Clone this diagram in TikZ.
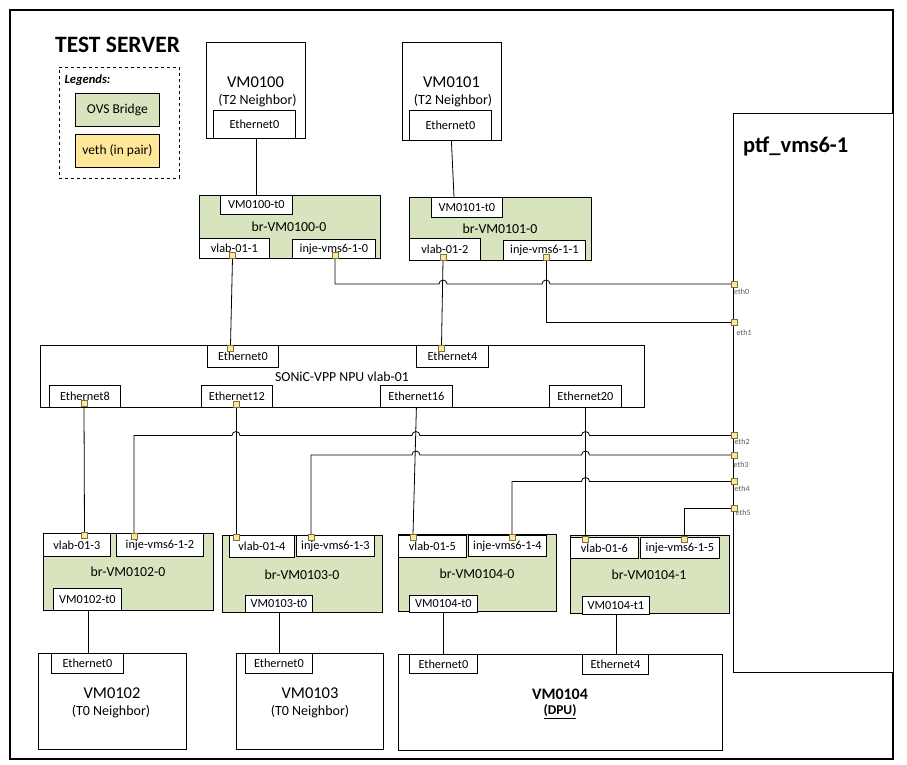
\documentclass[tikz,border=0pt]{standalone}
\usepackage{fontspec}
\setmainfont{Carlito}
\usetikzlibrary{calc}

\definecolor{brgreen}{HTML}{D7E4BD}
\definecolor{vethyellow}{HTML}{FFE699}
\definecolor{portedge}{HTML}{7F6F45}
\definecolor{ethgray}{HTML}{595959}

% font size given in pixels of the drawing (1px = 1pt)
\newcommand{\pxfont}[1]{\fontsize{#1}{#1}\selectfont}
% rectangular box: style, name, top-left corner, width, height, text
\newcommand{\pxbox}[6]{\node[#1,minimum width=#4pt,minimum height=#5pt] (#2) at (#3) {#6};}

\tikzset{
  box/.style={draw, fill=white, line width=0.8pt, inner sep=0pt, anchor=north west, font=\pxfont{12.3}},
  bridge/.style={box, fill=brgreen},
  txt/.style={inner sep=0pt},
  brlabel/.style={txt, font=\pxfont{13.8}},
  vmname/.style={txt, font=\pxfont{16.5}},
  vmrole/.style={txt, font=\pxfont{14}},
  port/.style={draw=portedge, fill=vethyellow, line width=0.6pt, minimum size=5.5pt, inner sep=0pt},
  wire/.style={draw, line width=0.8pt},
  ethlabel/.style={anchor=west, inner sep=0pt, font=\pxfont{8}, text=ethgray},
}

\begin{document}
\begin{tikzpicture}[x=1pt,y=-1pt]
\useasboundingbox (0,0) rectangle (907,765);

% server frame
\draw[line width=2.2pt] (10,10) rectangle (893,759);
\node[anchor=base west, txt, font=\pxfont{23.5}\bfseries] (title) at (55,53) {TEST SERVER};

% legend
\node[draw, dashed, line width=0.8pt, anchor=north west, minimum width=120pt, minimum height=111pt] (legend) at (59,67) {};
\node[anchor=west, txt, font=\pxfont{12.5}\bfseries\itshape] (legtitle) at (64.5,80) {Legends:};
\pxbox{box, fill=brgreen, font=\pxfont{13.5}}{legovs}{75,93}{84}{33}{OVS Bridge}
\pxbox{box, fill=vethyellow, font=\pxfont{13.5}}{legveth}{75,134}{84}{33}{veth (in pair)}

% T2 neighbours
\pxbox{box}{vm0100}{206,42}{99}{96}{}
\node[vmname] (vm0100name) at (255.5,82.5) {VM0100};
\node[vmrole] (vm0100role) at (257.5,100.5) {(T2 Neighbor)};
\pxbox{box}{vm0100eth}{213,110}{82}{28}{Ethernet0}

\pxbox{box}{vm0101}{402,42}{99}{98}{}
\node[vmname] (vm0101name) at (451.5,82.5) {VM0101};
\node[vmrole] (vm0101role) at (453,100.5) {(T2 Neighbor)};
\pxbox{box}{vm0101eth}{409,110}{82}{30}{Ethernet0}

% upper bridges
\pxbox{bridge}{br0100}{199,195}{181}{63}{}
\pxbox{box}{t0100}{220,195}{72}{19}{VM0100-t0}
\node[brlabel] (br0100name) at (289,226.5) {br-VM0100-0};
\pxbox{box}{v011}{199,238}{70}{20}{vlab-01-1}
\pxbox{box}{i0}{292,239}{83}{19}{inje-vms6-1-0}

\pxbox{bridge}{br0101}{409,197}{182}{63}{}
\pxbox{box}{t0101}{431,197}{71}{20}{VM0101-t0}
\node[brlabel] (br0101name) at (500,228.5) {br-VM0101-0};
\pxbox{box}{v012}{409,238}{71}{22}{vlab-01-2}
\pxbox{box}{i1}{503,240}{82}{20}{inje-vms6-1-1}

% PTF container
\pxbox{box}{ptf}{733,113}{160}{559}{}
\node[anchor=base west, txt, font=\pxfont{22.5}\bfseries] (ptfname) at (743,152) {ptf\_vms6-1};

% NPU
\pxbox{box}{npu}{40,345}{604}{62}{}
\node[brlabel] (npuname) at (342,377) {SONiC-VPP NPU vlab-01};
\pxbox{box}{npu0}{207,345}{71}{22}{Ethernet0}
\pxbox{box}{npu4}{416,345}{72}{22}{Ethernet4}
\pxbox{box}{npu8}{49,385}{71}{22}{Ethernet8}
\pxbox{box}{npu12}{201,385}{71}{22}{Ethernet12}
\pxbox{box}{npu16}{380,385}{72}{22}{Ethernet16}
\pxbox{box}{npu20}{549,385}{72}{22}{Ethernet20}

% lower bridges
\pxbox{bridge}{br0102}{43,533}{170}{77}{}
\pxbox{box}{v013}{43,533}{67}{23}{vlab-01-3}
\pxbox{box}{i2}{116,533}{87}{23}{inje-vms6-1-2}
\node[brlabel] (br0102name) at (128,571.5) {br-VM0102-0};
\pxbox{box}{t0102}{53,588}{68}{22}{VM0102-t0}

\pxbox{bridge}{br0103}{222,535}{160}{77}{}
\pxbox{box}{v014}{229,535}{65}{22}{vlab-01-4}
\pxbox{box}{i3}{296,535}{78}{21}{inje-vms6-1-3}
\node[brlabel] (br0103name) at (302,574.5) {br-VM0103-0};
\pxbox{box}{t0103}{245,595}{67}{17}{VM0103-t0}

\pxbox{bridge}{br01040}{398,534}{158}{77}{}
\pxbox{box}{v015}{398,535}{68}{22}{vlab-01-5}
\pxbox{box}{i4}{468,535}{78}{21}{inje-vms6-1-4}
\node[brlabel] (br01040name) at (477,573.5) {br-VM0104-0};
\pxbox{box}{t01040}{409,595}{68}{17}{VM0104-t0}

\pxbox{bridge}{br01041}{570,535}{159}{78}{}
\pxbox{box}{v016}{570,537}{68}{21}{vlab-01-6}
\pxbox{box}{i5}{640,537}{79}{21}{inje-vms6-1-5}
\node[brlabel] (br01041name) at (649,574.5) {br-VM0104-1};
\pxbox{box}{t01041}{582,596}{67}{18}{VM0104-t1}

% T0 neighbours and DPU
\pxbox{box}{vm0102}{38,653}{148}{96}{}
\pxbox{box}{vm0102eth}{51,653}{72}{20}{Ethernet0}
\node[vmname] (vm0102name) at (112,693.5) {VM0102};
\node[vmrole] (vm0102role) at (111,711.5) {(T0 Neighbor)};

\pxbox{box}{vm0103}{236,653}{147}{96}{}
\pxbox{box}{vm0103eth}{245,653}{67}{20}{Ethernet0}
\node[vmname] (vm0103name) at (310,693.5) {VM0103};
\node[vmrole] (vm0103role) at (310,711.5) {(T0 Neighbor)};

\pxbox{box}{vm0104}{398,654}{324}{96}{}
\pxbox{box}{vm0104eth0}{409,654}{68}{19}{Ethernet0}
\pxbox{box}{vm0104eth4}{582,654}{66}{20}{Ethernet4}
\node[txt, font=\pxfont{16}\bfseries] (vm0104name) at (560,694.5) {VM0104};
\node[txt, font=\pxfont{13.5}\bfseries] (vm0104role) at (560,712) {\underline{(DPU)}};

% veth ends
\node[port] (p_v011) at (232.5,255) {};
\node[port] (p_i0) at (335,255) {};
\node[port] (p_v012) at (443,257) {};
\node[port] (p_i1) at (546,257) {};
\node[port] (p_n0) at (230.5,348.5) {};
\node[port] (p_n4) at (441.5,348.5) {};
\node[port] (p_n8) at (84,403.5) {};
\node[port] (p_n12) at (236,404) {};
\node[port] (p_v013) at (84.5,535) {};
\node[port] (p_i2) at (134,536.5) {};
\node[port] (p_v014) at (236,537.5) {};
\node[port] (p_i3) at (311,537) {};
\node[port] (p_v015) at (413,537.5) {};
\node[port] (p_i4) at (512,537.5) {};
\node[port] (p_v016) at (585.5,539.5) {};
\node[port] (p_i5) at (684.5,539.5) {};
\node[port] (eth0) at (734,284) {};
\node[port] (eth1) at (734,322.5) {};
\node[port] (eth2) at (734,435.5) {};
\node[port] (eth3) at (734,455) {};
\node[port] (eth4) at (734,481.5) {};
\node[port] (eth5) at (734,508) {};
\node[ethlabel] (l_eth0) at (734,291.5) {eth0};
\node[ethlabel] (l_eth1) at (736.5,332.5) {eth1};
\node[ethlabel] (l_eth2) at (734.5,441.5) {eth2};
\node[ethlabel] (l_eth3) at (733.5,464.5) {eth3};
\node[ethlabel] (l_eth4) at (734.5,488.5) {eth4};
\node[ethlabel] (l_eth5) at (735.5,512.5) {eth5};

% links (small arcs hop over crossed links)
\draw[wire] (vm0100eth.south -| t0100.north) -- (t0100.north);
\draw[wire] ($(vm0101eth.south)+(1,0)$) -- ($(t0101.north west)+(23,0)$);
\draw[wire] (p_v011.south) -- (p_n0.north);
\draw[wire] (p_v012.south) -- (p_n4.north);
\draw[wire] (p_i0.south) |- ($(p_v012 |- eth0)+(-4,0)$)
  arc[start angle=180, end angle=0, radius=4pt]
  -- ($(p_i1 |- eth0)+(-4,0)$)
  arc[start angle=180, end angle=0, radius=4pt]
  -- (eth0.west);
\draw[wire] (p_i1.south) |- (eth1.west);

\draw[wire] (p_n8.south) -- (p_v013.north);
\draw[wire] (p_n12.south) -- (p_v014.north);
\draw[wire] (npu16.south) -- (p_v015.north);
\draw[wire] (npu20.south -| p_v016) -- (p_v016.north);

\draw[wire] (eth2.west) -- ($(p_v016 |- eth2)+(4,0)$)
  arc[start angle=0, end angle=180, radius=4pt]
  -- ($(npu16.south |- eth2)+(3.5,0)$)
  arc[start angle=0, end angle=180, radius=4pt]
  -- ($(p_n12 |- eth2)+(4,0)$)
  arc[start angle=0, end angle=180, radius=4pt]
  -- (p_i2 |- eth2) -- (p_i2.north);
\draw[wire] (eth3.west) -- ($(p_v016 |- eth3)+(4,0)$)
  arc[start angle=0, end angle=180, radius=4pt]
  -- ($(npu16.south |- eth3)+(3.5,0)$)
  arc[start angle=0, end angle=180, radius=4pt]
  -- (p_i3 |- eth3) -- (p_i3.north);
\draw[wire] (eth4.west) -- ($(p_v016 |- eth4)+(4,0)$)
  arc[start angle=0, end angle=180, radius=4pt]
  -- (p_i4 |- eth4) -- (p_i4.north);
\draw[wire] (eth5.west) -| (p_i5.north);

\draw[wire] ($(t0102.south west)+(35,0)$) -- ($(vm0102eth.north west)+(37,0)$);
\draw[wire] (t0103.south) -- (t0103.south |- vm0103eth.north);
\draw[wire] (t01040.south) -- (t01040.south |- vm0104eth0.north);
\draw[wire] (t01041.south) -- (t01041.south |- vm0104eth4.north);

% port squares drawn again on top of the links
\foreach \p in {p_v011,p_i0,p_v012,p_i1,p_n0,p_n4,p_n8,p_n12,p_v013,p_i2,p_v014,p_i3,p_v015,p_i4,p_v016,p_i5,eth0,eth1,eth2,eth3,eth4,eth5}
  \draw[draw=portedge, fill=vethyellow, line width=0.6pt] (\p.south west) rectangle (\p.north east);
\end{tikzpicture}
\end{document}
